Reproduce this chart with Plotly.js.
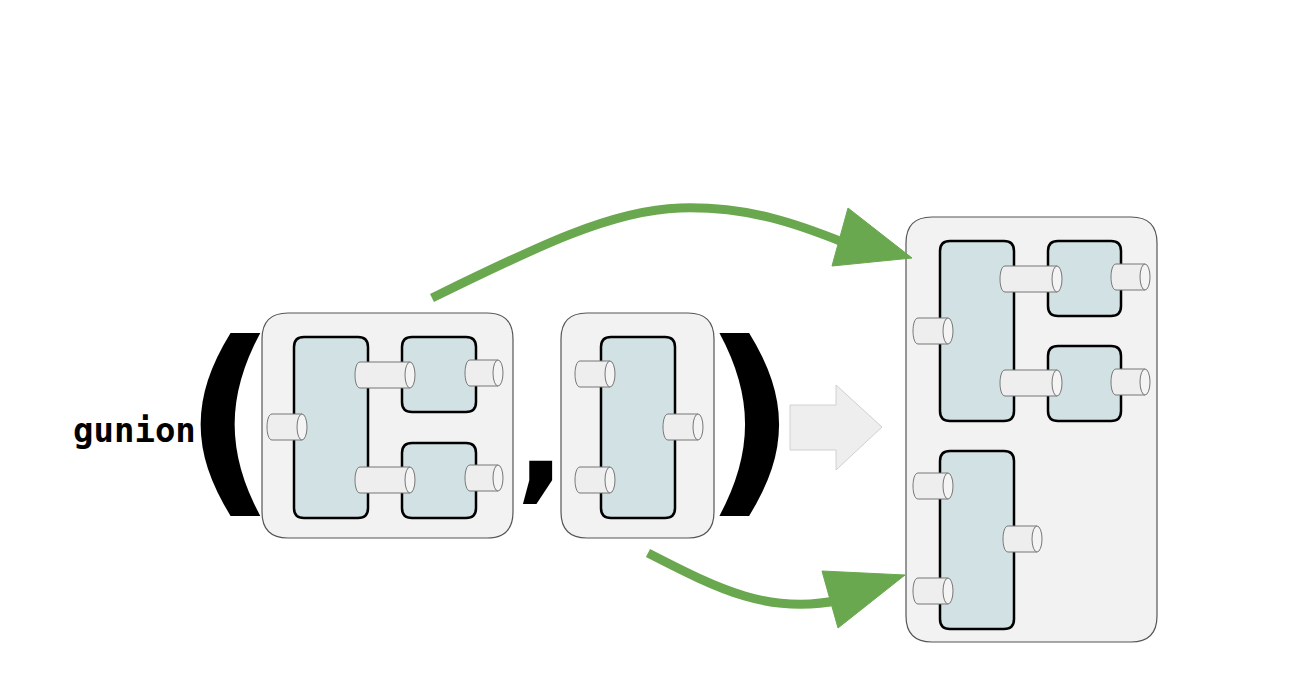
<html><head><script src="https://cdn.plot.ly/plotly-3.0.1.min.js"></script>
<style>body{margin:0}</style></head><body><div id="g" style="width:1310px;height:684px"></div>
<script>
// outer containers [x0,x1,y0,y1]
const outerBoxes=[[262,513,313,538],[561,714,313,538],[906,1157,217,642]];
// components [x0,x1,y0,y1]
const innerBoxes=[[294,368,337,518],[402,476,337,412],[402,476,443,518],[601,675,337,518],
 [940,1014,241,421],[1048,1121,241,316],[1048,1121,346,421],[940,1014,451,629]];
// ports / connectors [x0,x1,yTop,yBottom]
const ports=[[360,410,362,388],[360,410,467,493],[272,302,414,440],[470,498,360,386],[470,498,465,491],
 [580,610,361,387],[580,610,467,493],[668,698,414,440],
 [1005,1057,266,292],[1005,1057,370,396],[918,948,318,344],[1116,1145,264,290],[1116,1145,369,395],
 [918,948,473,499],[918,948,578,604],[1008,1037,526,552]];
// green curves: start, then cubic control triples
const greenCurves=[[[432,298],[530,250],[610,210],[680,208],[750,206],[800,225],[845,243]],[[648,553],[720,590],[770,615],[840,600]]];
const greenHeads=[[[912,258],[848,208],[832,266]],[[905,575],[822,571],[838,628]]];
const grayArrow=[[790,405],[836,405],[836,385],[882,427],[836,470],[836,450],[790,450]];
const labels=[{t:'gunion',x:134,y:430,s:34,f:'DejaVu Sans Mono'},{t:'(',x:230,y:418,s:205,f:'DejaVu Sans'},
 {t:')',x:750,y:418,s:205,f:'DejaVu Sans'},{t:',',x:540,y:440,s:130,f:'DejaVu Sans'}];

function rr(b,r){const[x0,x1,y0,y1]=b;return `M${x0+r},${y0} L${x1-r},${y0} Q${x1},${y0} ${x1},${y0+r} L${x1},${y1-r} Q${x1},${y1} ${x1-r},${y1} L${x0+r},${y1} Q${x0},${y1} ${x0},${y1-r} L${x0},${y0+r} Q${x0},${y0} ${x0+r},${y0} Z`;}
const shapes=[];
const S=o=>shapes.push(Object.assign({xref:'x',yref:'y',layer:'below'},o));
outerBoxes.forEach(b=>S({type:'path',path:rr(b,26),fillcolor:'#f2f2f2',line:{color:'#555',width:1.2}}));
innerBoxes.forEach(b=>S({type:'path',path:rr(b,10),fillcolor:'#d2e1e4',line:{color:'#000',width:2.5}}));
ports.forEach(p=>{const[x0,x1,y0,y1]=p;const rx=5,k=rx*1.33;
 S({type:'path',path:`M${x0},${y0} L${x1},${y0} L${x1},${y1} L${x0},${y1} C${x0-k},${y1} ${x0-k},${y0} ${x0},${y0} Z`,fillcolor:'#eeeeee',line:{color:'#777',width:1}});
 S({type:'circle',x0:x1-rx,x1:x1+rx,y0:y0,y1:y1,fillcolor:'#f4f4f4',line:{color:'#777',width:1}});});
S({type:'path',path:'M'+grayArrow.map(p=>p.join(',')).join(' L')+' Z',fillcolor:'#eeeeee',line:{color:'#d0d0d0',width:1}});
greenCurves.forEach(c=>{let d=`M${c[0]} `;for(let i=1;i+2<c.length;i+=3)d+=`C${c[i]} ${c[i+1]} ${c[i+2]} `;
 S({type:'path',path:d,line:{color:'#6aa84f',width:9}});});
greenHeads.forEach(h=>S({type:'path',path:`M${h[0]} L${h[1]} L${h[2]} Z`,fillcolor:'#6aa84f',line:{color:'#6aa84f',width:1}}));
const annotations=labels.map(l=>({text:'<b>'+l.t+'</b>',x:l.x,y:l.y,xref:'x',yref:'y',showarrow:false,font:{family:l.f,size:l.s,color:'#000'},xanchor:'center',yanchor:'middle'}));
Plotly.newPlot('g',[{x:[0],y:[0],mode:'markers',marker:{opacity:0},hoverinfo:'skip'}],{
 width:1310,height:684,margin:{l:0,r:0,t:0,b:0},paper_bgcolor:'#fff',plot_bgcolor:'rgba(0,0,0,0)',showlegend:false,
 xaxis:{range:[0,1310],visible:false},yaxis:{range:[684,0],visible:false},shapes,annotations},{displayModeBar:false});
</script></body></html>
